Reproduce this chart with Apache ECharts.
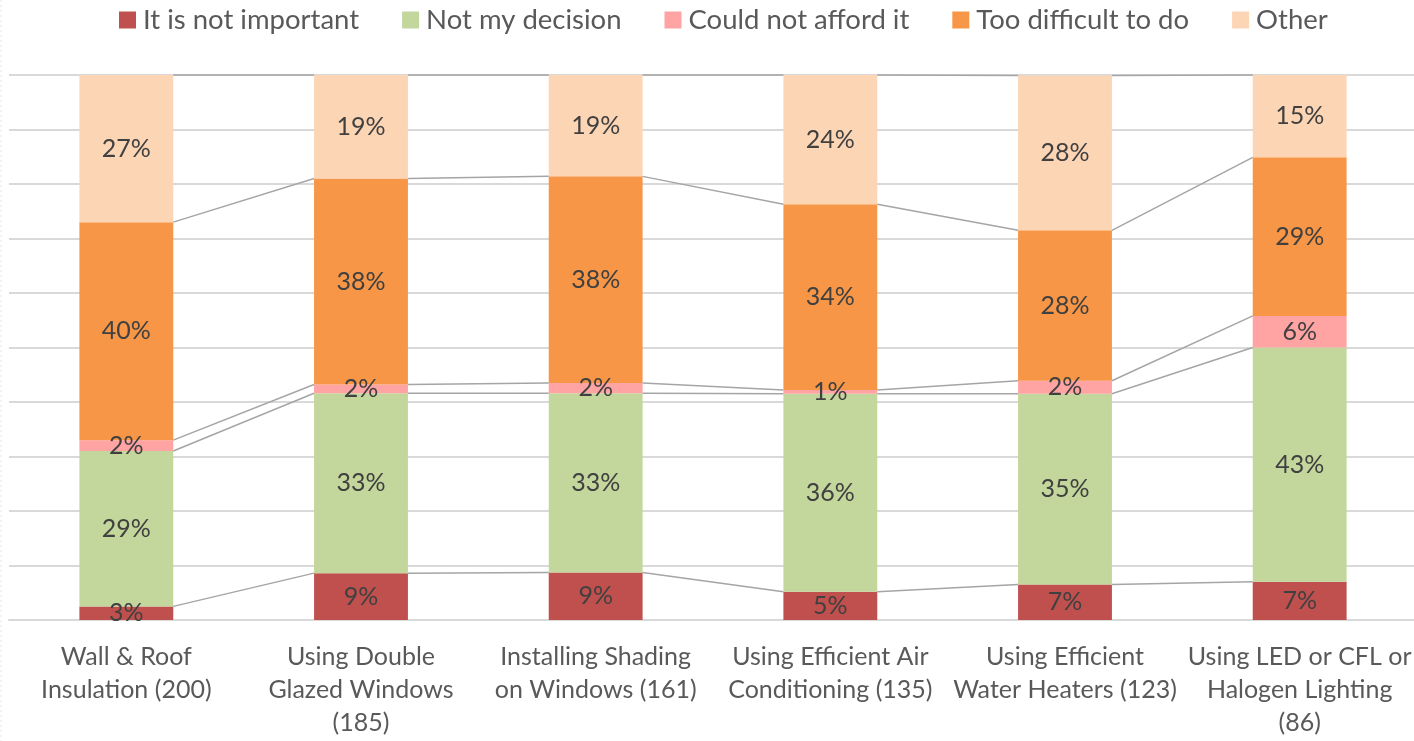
<!DOCTYPE html>
<html>
<head>
<meta charset="utf-8">
<style>
  html, body { margin: 0; padding: 0; background: #fff; }
  #chart { width: 1414px; height: 741px; }
</style>
<script src="https://cdn.jsdelivr.net/npm/echarts@6/dist/echarts.min.js"></script>
</head>
<body>
<div id="chart"></div>
<script>
const categories = [
    'Wall & Roof\nInsulation (200)',
    'Using Double\nGlazed Windows\n(185)',
    'Installing Shading\non Windows (161)',
    'Using Efficient Air\nConditioning (135)',
    'Using Efficient\nWater Heaters (123)',
    'Using LED or CFL or\nHalogen Lighting\n(86)'
];
const seriesNames = ['It is not important', 'Not my decision', 'Could not afford it', 'Too difficult to do', 'Other'];
const colors = ['#c0504d', '#c3d69b', '#ffa3a3', '#f79646', '#fcd5b5'];

// percent of respondents in each bar
const notImportant = [2.5, 8.6, 8.7, 5.2, 6.5, 7.0];
const notMyDecision = [28.5, 33.0, 32.9, 36.3, 35.0, 43.0];
const couldNotAfford = [2.0, 1.6, 1.9, 0.7, 2.4, 5.8];
const tooDifficult = [40.0, 37.8, 37.9, 34.1, 27.6, 29.1];
const other = [27.0, 19.0, 18.6, 23.7, 28.4, 15.1];

const values = [notImportant, notMyDecision, couldNotAfford, tooDifficult, other];
const fontFamily = 'Lato, "Open Sans", sans-serif';

// running totals, used for the connecting lines between bars
const cumulative = categories.map((c, i) => {
    let sum = 0;
    return values.map((arr) => (sum += arr[i]));
});
const lineData = categories.slice(0, -1).map((c, i) => [i, ...cumulative[i], ...cumulative[i + 1]]);

const myChart = echarts.init(document.getElementById('chart'));

const barSeries = seriesNames.map((name, k) => ({
    name,
    type: 'bar',
    stack: 'total',
    barWidth: '40%',
    itemStyle: { color: colors[k] },
    label: {
        show: true,
        position: 'inside',
        formatter: (p) => Math.round(p.value) + '%',
        color: '#404040',
        fontSize: 25,
        fontFamily
    },
    data: values[k]
}));

const option = {
    animation: false,
    legend: {
        top: 1,
        left: 114,
        itemWidth: 17,
        itemHeight: 17,
        itemGap: 43,
        icon: 'rect',
        textStyle: { color: '#595959', fontSize: 27.5, fontFamily, padding: [0, 0, 0, 2] },
        data: seriesNames
    },
    grid: { left: 9, right: -3, top: 75, bottom: 121, outerBoundsMode: 'none' },
    xAxis: {
        type: 'category',
        data: categories,
        axisLine: { lineStyle: { color: '#d9d9d9', width: 2 } },
        axisTick: { show: false },
        axisLabel: {
            interval: 0,
            color: '#595959',
            fontSize: 25,
            lineHeight: 33,
            margin: 20,
            fontFamily
        }
    },
    yAxis: {
        type: 'value',
        min: 0,
        max: 100,
        interval: 10,
        axisLabel: { show: false },
        axisLine: { show: false },
        axisTick: { show: false },
        splitLine: { lineStyle: { color: '#d9d9d9', width: 2 } }
    },
    graphic: [{
        type: 'line',
        shape: { x1: 1, y1: 0, x2: 1, y2: 741 },
        style: { stroke: '#e6e6d8', lineWidth: 1, lineDash: [2, 3] }
    }],
    series: [
        ...barSeries,
        {
            type: 'custom',
            silent: true,
            z: 5,
            data: lineData,
            renderItem: (params, api) => {
                const i = api.value(0);
                const half = api.size([1, 0])[0] * 0.2;
                const n = seriesNames.length;
                const children = [];
                for (let k = 0; k < n; k++) {
                    const a = api.coord([i, api.value(1 + k)]);
                    const b = api.coord([i + 1, api.value(1 + n + k)]);
                    children.push({
                        type: 'line',
                        shape: { x1: a[0] + half, y1: a[1], x2: b[0] - half, y2: b[1] },
                        style: { stroke: '#a5a5a5', lineWidth: 1.5 }
                    });
                }
                return { type: 'group', children };
            }
        }
    ]
};

myChart.setOption(option);
</script>
</body>
</html>
